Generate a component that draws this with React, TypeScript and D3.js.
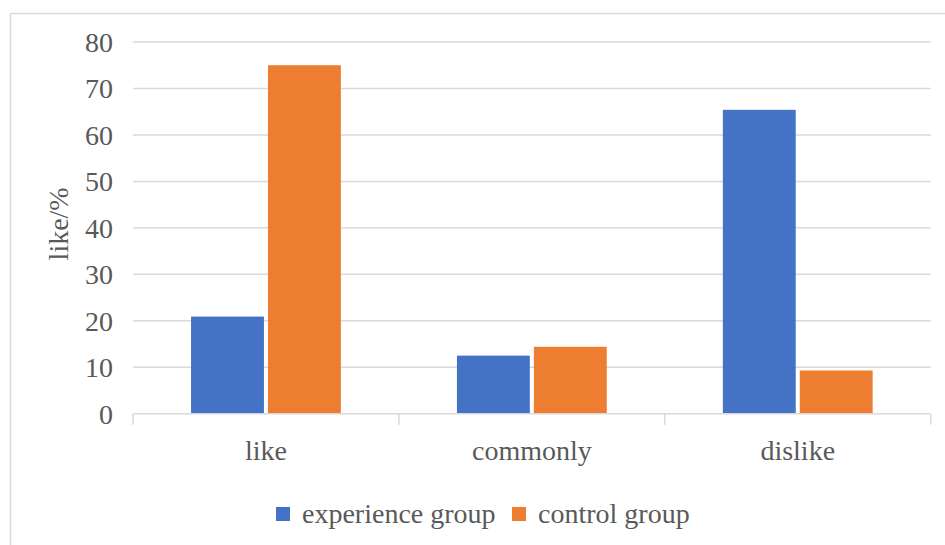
import React from "react";
import * as d3 from "d3";

const categories = ["like", "commonly", "dislike"];
const seriesNames = ["experience group", "control group"];
const experienceValues = [20.9, 12.5, 65.4];
const controlValues = [75, 14.4, 9.3];
const yTicks = [0, 10, 20, 30, 40, 50, 60, 70, 80];
const yLabel = "like/%";
const colors = ["#4472C4", "#ED7D31"];

const W = 945;
const H = 545;
const plotLeft = 133;
const plotRight = 930.7;
const plotTop = 42;
const plotBottom = 413.7;
const font = '"Liberation Serif", "Times New Roman", "DejaVu Serif", serif';
const textColor = "#595959";
const gridColor = "#d9d9d9";
const ts = { fontFamily: font, fontSize: "28px", fill: textColor } as React.CSSProperties;

export default function App() {
  const x0 = d3.scaleBand<string>().domain(categories).range([plotLeft, plotRight]).paddingInner(0).paddingOuter(0);
  const bw = x0.bandwidth();
  const outer = bw * 0.2183;
  const x1 = d3.scaleBand<string>().domain(seriesNames).range([outer, bw - outer]).paddingInner(0.0526).paddingOuter(0);
  const y = d3.scaleLinear().domain([0, 80]).range([plotBottom, plotTop]);
  const values = [experienceValues, controlValues];

  const legendItems = [
    { name: seriesNames[0], sx: 276, tx: 302 },
    { name: seriesNames[1], sx: 512, tx: 538 },
  ];

  return (
    <svg width={W} height={H} style={{ position: "absolute", left: 0, top: 0 }}>
      <rect x={0} y={0} width={W} height={H} fill="#ffffff" />
      <rect x={10.5} y={13.5} width={950} height={560} fill="#ffffff" stroke={gridColor} strokeWidth={1.5} />
      {yTicks.filter((t) => t !== 0).map((t) => (
        <line key={t} x1={plotLeft} x2={plotRight} y1={y(t)} y2={y(t)} stroke={gridColor} strokeWidth={1.5} />
      ))}
      {yTicks.map((t) => (
        <text key={"l" + t} x={113} y={y(t)} dy="0.35em" textAnchor="end" style={ts}>
          {t}
        </text>
      ))}
      <text
        transform={`translate(68,${(plotTop + plotBottom) / 2 - 4}) rotate(-90)`}
        textAnchor="middle"
        style={ts}
      >
        {yLabel}
      </text>
      {categories.map((c, ci) => (
        <g key={c}>
          {seriesNames.map((s, si) => {
            const v = values[si][ci];
            return (
              <rect
                key={s}
                x={(x0(c) as number) + (x1(s) as number)}
                y={y(v)}
                width={x1.bandwidth()}
                height={plotBottom - y(v)}
                fill={colors[si]}
              />
            );
          })}
        </g>
      ))}
      <line x1={plotLeft} x2={plotRight} y1={plotBottom} y2={plotBottom} stroke={gridColor} strokeWidth={1.5} />
      {[...categories.map((c) => x0(c) as number), plotRight].map((xv, i) => (
        <line key={"t" + i} x1={xv} x2={xv} y1={plotBottom} y2={plotBottom + 11} stroke={gridColor} strokeWidth={1.5} />
      ))}
      {categories.map((c) => (
        <text key={"c" + c} x={(x0(c) as number) + bw / 2} y={460} textAnchor="middle" style={ts}>
          {c}
        </text>
      ))}
      {legendItems.map((item, i) => (
        <g key={item.name}>
          <rect x={item.sx} y={507} width={14} height={14} fill={colors[i]} />
          <text x={item.tx} y={523} style={ts}>
            {item.name}
          </text>
        </g>
      ))}
    </svg>
  );
}
